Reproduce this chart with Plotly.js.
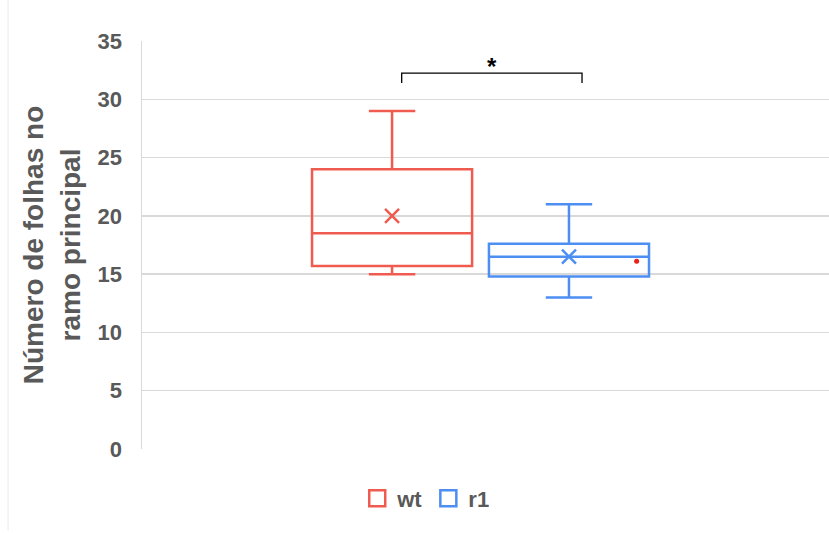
<!DOCTYPE html>
<html><head><meta charset="utf-8">
<script src="https://cdn.plot.ly/plotly-3.0.1.min.js"></script>
<style>html,body{margin:0;padding:0;background:#fff;}#chart{width:829px;height:534px;}</style>
</head><body><div id="chart"></div>
<script>
const seriesNames = ['wt', 'r1'];
const seriesX = [0.364, 0.6215];
const lowerWhisker = [15, 13];
const q1Values = [15.7, 14.8];
const medianValues = [18.5, 16.5];
const q3Values = [24, 17.6];
const upperWhisker = [29, 21];
const meanValues = [20, 16.5];
const seriesColors = ['#EF5B4F', '#4C8EF2'];
const dotX = [0.72];
const dotY = [16.1];
const sigLabel = '*';

const traces = [];
seriesNames.forEach((name, i) => {
  traces.push({
    type: 'box', name: name, x: [seriesX[i]],
    q1: [q1Values[i]], median: [medianValues[i]], q3: [q3Values[i]],
    lowerfence: [lowerWhisker[i]], upperfence: [upperWhisker[i]],
    width: 0.233, whiskerwidth: 0.29,
    line: {color: seriesColors[i], width: 2.5},
    fillcolor: 'rgba(255,255,255,0)',
    showlegend: false, hoverinfo: 'skip'
  });
  traces.push({
    type: 'scatter', mode: 'markers', x: [seriesX[i]], y: [meanValues[i]],
    marker: {symbol: 'x-thin-open', size: 14, color: seriesColors[i], line: {color: seriesColors[i], width: 2.5}},
    showlegend: false, hoverinfo: 'skip'
  });
});
seriesNames.forEach((name, i) => {
  traces.push({
    type: 'scatter', mode: 'markers', name: name, x: [null], y: [null],
    marker: {symbol: 'square-open', size: 18, color: seriesColors[i], line: {color: seriesColors[i], width: 2.5}},
    showlegend: true, hoverinfo: 'skip'
  });
});
traces.push({
  type: 'scatter', mode: 'markers', x: dotX, y: dotY,
  marker: {size: 5, color: '#E8221B'}, showlegend: false, hoverinfo: 'skip'
});

const layout = {
  width: 829, height: 534,
  margin: {l: 142, r: 0, t: 41, b: 85},
  paper_bgcolor: '#fff', plot_bgcolor: '#fff',
  font: {family: 'Liberation Sans, Arial, sans-serif', color: '#595959'},
  showlegend: true,
  legend: {orientation: 'h', x: 0.413, xanchor: 'center', y: -0.07, yanchor: 'top',
    font: {size: 22, color: '#595959', weight: 'bold'}, itemwidth: 30},
  xaxis: {range: [0, 1], showgrid: false, zeroline: false, showticklabels: false, showline: false, fixedrange: true},
  yaxis: {
    range: [0, 35], dtick: 5, tick0: 0,
    showgrid: true, gridcolor: '#D9D9D9', gridwidth: 1.5,
    zeroline: false, showline: true, linecolor: '#D9D9D9', linewidth: 1.5,
    ticks: '', ticklabelstandoff: 14,
    tickfont: {size: 22, color: '#595959', weight: 'bold'},
    title: {text: 'Número de folhas no<br>ramo principal', standoff: 9,
      font: {size: 28, color: '#595959', weight: 'bold'}}
  },
  shapes: [
    {type: 'path', xref: 'x', yref: 'y', path: 'M 0.378 31.4 L 0.378 32.25 L 0.6405 32.25 L 0.6405 31.4',
      line: {color: '#000', width: 1.3}},
    {type: 'line', xref: 'paper', yref: 'paper', x0: -0.195, x1: -0.195, y0: -0.2, y1: 1.1,
      line: {color: '#EAEAEA', width: 1}}
  ],
  annotations: [
    {xref: 'x', yref: 'y', x: 0.5095, y: 32.6, text: sigLabel, showarrow: false, yanchor: 'bottom',
      yshift: -13, font: {size: 24, color: '#000', weight: 'bold'}}
  ]
};
Plotly.newPlot('chart', traces, layout, {displayModeBar: false, staticPlot: true});
</script></body></html>
